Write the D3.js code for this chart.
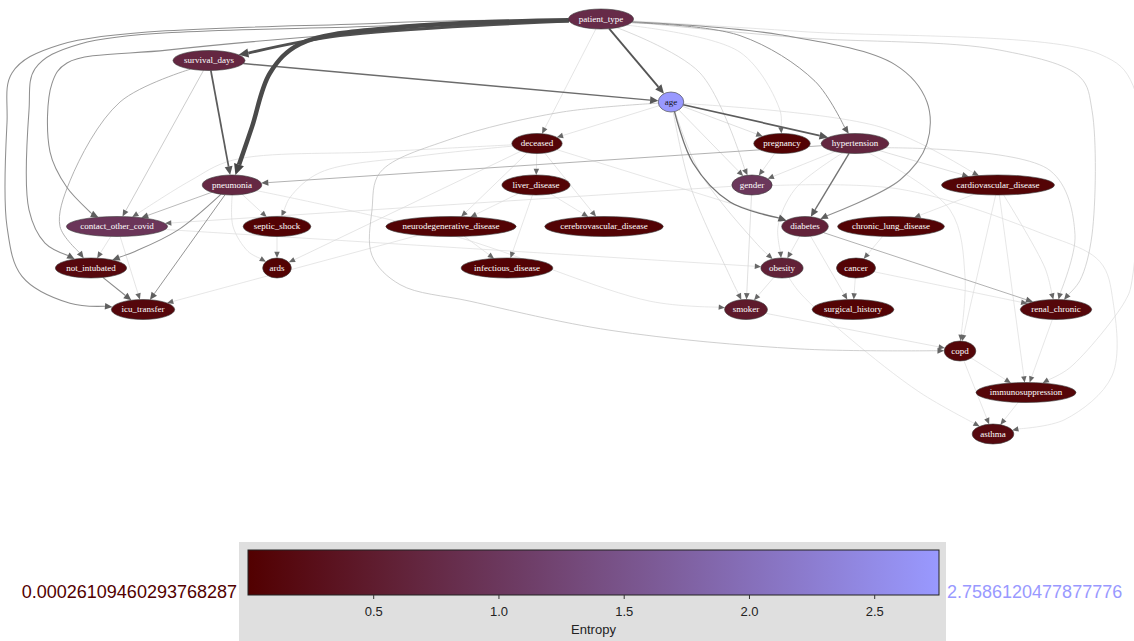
<!DOCTYPE html>
<html>
<head>
<meta charset="utf-8">
<script src="https://cdn.jsdelivr.net/npm/d3@7"></script>
<style>
  body { margin: 0; background: #fff; }
  svg { display: block; }
</style>
</head>
<body>
<svg id="chart" width="1134" height="641"></svg>
<script>
// nodes of the network and their entropy
const nodeNames = ['patient_type', 'survival_days', 'age', 'deceased', 'pregnancy', 'hypertension',
  'pneumonia', 'liver_disease', 'gender', 'cardiovascular_disease', 'contact_other_covid', 'septic_shock',
  'neurodegenerative_disease', 'cerebrovascular_disease', 'diabetes', 'chronic_lung_disease', 'not_intubated',
  'ards', 'infectious_disease', 'obesity', 'cancer', 'icu_transfer', 'smoker', 'surgical_history',
  'renal_chronic', 'copd', 'immunosuppression', 'asthma'];
const nodeEntropy = [0.78, 0.70, 2.7586120477877776, 0.09, 0.03, 0.68,
  0.72, 0.05, 0.99, 0.07, 0.96, 0.04,
  0.05, 0.05, 0.62, 0.05, 0.15,
  0.03, 0.04, 0.60, 0.06, 0.13, 0.47, 0.05,
  0.12, 0.10, 0.10, 0.16];

// dot layout: rank (row) and horizontal position of each node
const nodeRank = [0, 1, 2, 3, 3, 3, 4, 4, 4, 4, 5, 5, 5, 5, 5, 5, 6, 6, 6, 6, 6, 7, 7, 7, 7, 8, 9, 10];
const nodeX = [601, 209, 671, 537, 782, 855, 232, 536, 752, 998, 117, 277, 451, 604, 805, 891, 91, 277, 507,
  782, 856, 143, 746, 853, 1056, 960, 1026, 993];

// arcs: parent, child, strength
const arcs = [
  ['patient_type', 'pneumonia', 1.0],
  ['patient_type', 'survival_days', 0.75],
  ['patient_type', 'age', 0.55],
  ['survival_days', 'pneumonia', 0.52],
  ['survival_days', 'age', 0.45],
  ['age', 'hypertension', 0.52],
  ['age', 'diabetes', 0.42],
  ['hypertension', 'diabetes', 0.42],
  ['patient_type', 'diabetes', 0.3],
  ['patient_type', 'hypertension', 0.28],
  ['patient_type', 'icu_transfer', 0.3],
  ['patient_type', 'not_intubated', 0.3],
  ['patient_type', 'contact_other_covid', 0.3],
  ['pneumonia', 'not_intubated', 0.3],
  ['pneumonia', 'icu_transfer', 0.28],
  ['not_intubated', 'icu_transfer', 0.32],
  ['pneumonia', 'contact_other_covid', 0.2],
  ['survival_days', 'not_intubated', 0.22],
  ['survival_days', 'contact_other_covid', 0.15],
  ['hypertension', 'pneumonia', 0.22],
  ['diabetes', 'renal_chronic', 0.22],
  ['age', 'copd', 0.14],
  ['patient_type', 'renal_chronic', 0.12],
  ['patient_type', 'immunosuppression', 0.06],
  ['patient_type', 'deceased', 0.06],
  ['patient_type', 'gender', 0.1],
  ['patient_type', 'pregnancy', 0.06],
  ['age', 'deceased', 0.06],
  ['age', 'pregnancy', 0.08],
  ['age', 'gender', 0.08],
  ['age', 'obesity', 0.08],
  ['age', 'smoker', 0.08],
  ['age', 'cardiovascular_disease', 0.06],
  ['deceased', 'liver_disease', 0.06],
  ['deceased', 'neurodegenerative_disease', 0.06],
  ['deceased', 'cerebrovascular_disease', 0.06],
  ['deceased', 'septic_shock', 0.06],
  ['deceased', 'contact_other_covid', 0.06],
  ['deceased', 'ards', 0.06],
  ['deceased', 'diabetes', 0.05],
  ['pneumonia', 'septic_shock', 0.06],
  ['pneumonia', 'ards', 0.06],
  ['pneumonia', 'smoker', 0.05],
  ['liver_disease', 'neurodegenerative_disease', 0.05],
  ['liver_disease', 'infectious_disease', 0.05],
  ['liver_disease', 'cerebrovascular_disease', 0.05],
  ['neurodegenerative_disease', 'infectious_disease', 0.05],
  ['neurodegenerative_disease', 'icu_transfer', 0.05],
  ['septic_shock', 'ards', 0.06],
  ['contact_other_covid', 'not_intubated', 0.06],
  ['contact_other_covid', 'icu_transfer', 0.06],
  ['contact_other_covid', 'obesity', 0.05],
  ['gender', 'contact_other_covid', 0.06],
  ['gender', 'smoker', 0.08],
  ['gender', 'asthma', 0.05],
  ['pregnancy', 'gender', 0.06],
  ['hypertension', 'gender', 0.06],
  ['hypertension', 'obesity', 0.06],
  ['hypertension', 'cardiovascular_disease', 0.08],
  ['hypertension', 'renal_chronic', 0.1],
  ['hypertension', 'copd', 0.05],
  ['cardiovascular_disease', 'chronic_lung_disease', 0.05],
  ['cardiovascular_disease', 'copd', 0.05],
  ['cardiovascular_disease', 'immunosuppression', 0.05],
  ['cardiovascular_disease', 'renal_chronic', 0.06],
  ['chronic_lung_disease', 'cancer', 0.05],
  ['diabetes', 'obesity', 0.06],
  ['diabetes', 'surgical_history', 0.06],
  ['cancer', 'surgical_history', 0.05],
  ['cancer', 'renal_chronic', 0.05],
  ['obesity', 'smoker', 0.06],
  ['obesity', 'asthma', 0.05],
  ['smoker', 'copd', 0.06],
  ['copd', 'immunosuppression', 0.05],
  ['copd', 'asthma', 0.05],
  ['renal_chronic', 'immunosuppression', 0.05],
  ['immunosuppression', 'asthma', 0.05]
];

// spline routing of the long arcs: [x, rank] waypoints
const arcRoutes = {
  'patient_type>pneumonia': [[400, 0.2], [300, 0.6], [270, 1.3], [252, 2.6]],
  'patient_type>survival_days': [[340, 0.4]],
  'patient_type>icu_transfer': [[380, 0.1], [60, 0.62], [12, 1.3], [7, 2.5], [7, 5], [22, 6.2], [70, 6.85]],
  'patient_type>not_intubated': [[380, 0.17], [80, 0.6], [35, 1.2], [29, 2.2], [29, 4.6], [45, 5.4]],
  'patient_type>contact_other_covid': [[380, 0.3], [167, 0.75], [67, 1.06], [52, 1.55], [50, 3.2], [67, 4.06], [92, 4.7]],
  'survival_days>not_intubated': [[120, 2.0], [70, 3.9], [60, 5.0]],
  'pneumonia>not_intubated': [[177, 5.1], [135, 5.6]],
  'age>diabetes': [[693, 3.47], [730, 4.41]],
  'patient_type>diabetes': [[780, 0.38], [895, 1.1], [927, 2.0], [927, 3.0], [900, 3.88]],
  'patient_type>hypertension': [[740, 0.4], [815, 1.5]],
  'patient_type>renal_chronic': [[800, 0.45], [1000, 0.75], [1080, 1.4], [1092, 2.2], [1092, 5.2], [1080, 6.3]],
  'patient_type>immunosuppression': [[800, 0.3], [1100, 0.85], [1133, 1.6], [1132, 6.3], [1125, 6.8], [1070, 8.4]],
  'patient_type>gender': [[700, 1.3]],
  'patient_type>pregnancy': [[740, 0.8], [780, 2.2]],
  'age>copd': [[560, 2.25], [450, 2.9], [380, 3.7], [372, 4.6], [372, 5.7], [400, 6.4], [470, 6.8], [610, 7.5], [800, 7.95]],
  'age>obesity': [[700, 3.7], [760, 5.5]],
  'age>smoker': [[690, 4], [730, 6.2]],
  'age>cardiovascular_disease': [[880, 2.6]],
  'hypertension>obesity': [[795, 4.1], [778, 5.0]],
  'hypertension>renal_chronic': [[1050, 3.65], [1075, 5.2]],
  'hypertension>copd': [[950, 4.6], [965, 6.2]],
  'gender>asthma': [[900, 4.1], [1040, 5.15], [1100, 5.85], [1113, 6.8], [1112, 8.6], [1065, 9.65]],
  'obesity>asthma': [[800, 6.6], [850, 7.7], [920, 9.0]],
  'cardiovascular_disease>renal_chronic': [[1045, 6.0]],
  'deceased>septic_shock': [[420, 3.3], [320, 3.7], [290, 4.3]],
  'deceased>contact_other_covid': [[380, 3.2], [233, 3.4], [190, 3.9]],
  'pneumonia>ards': [[233, 5.0], [248, 5.6]],
  'pneumonia>smoker': [[450, 5.2], [650, 6.8]]
};

// colour bar
const entropyMin = 0.00026109460293768287;
const entropyMax = 2.7586120477877776;
const barTicks = [0.5, 1.0, 1.5, 2.0, 2.5];

const svg = d3.select('#chart');
const x = d3.scaleLinear().domain([0, 1134]).range([0, 1134]);
const y = d3.scaleLinear().domain([0, 10]).range([19, 434]);
const cmap = d3.interpolateRgb('#520000', '#9999ff');
const color = d3.scaleSequential(cmap).domain([entropyMin, entropyMax]);
const arcWidth = d3.scalePow().exponent(2).domain([0, 1]).range([0.7, 4.5]);
const arcColor = d3.scaleLinear().domain([0.05, 0.3, 0.55, 1]).range(['#dddddd', '#8f8f8f', '#555555', '#4a4a4a']).clamp(true);
const headColor = d3.scaleLinear().domain([0, 1]).range(['#6a6a6a', '#444444']);

const nodes = nodeNames.map((name, i) => ({
  name, entropy: nodeEntropy[i], cx: x(nodeX[i]), cy: y(nodeRank[i]), ry: 10
}));
const byName = new Map(nodes.map(n => [n.name, n]));

const gArcs = svg.append('g');
const gNodes = svg.append('g');

const node = gNodes.selectAll('g.node')
  .data(nodes)
  .enter().append('g')
  .attr('class', 'node')
  .attr('transform', d => `translate(${d.cx},${d.cy})`);
const ell = node.append('ellipse')
  .attr('ry', d => d.ry)
  .style('fill', d => color(d.entropy))
  .style('stroke', '#3a3a3a')
  .style('stroke-width', 0.6);
node.append('text')
  .attr('text-anchor', 'middle')
  .attr('dy', '0.33em')
  .style('font-family', '"Liberation Serif", "Times New Roman", serif')
  .style('font-size', '9px')
  .style('fill', d => d.entropy > 1.8 ? '#111' : '#fff')
  .text(d => d.name)
  .each(function (d) { d.rx = this.getComputedTextLength() * 0.62 + 5; });
ell.attr('rx', d => d.rx);

function boundary(n, px, py) {
  const dx = px - n.cx, dy = py - n.cy;
  const t = 1 / Math.sqrt((dx / n.rx) ** 2 + (dy / n.ry) ** 2);
  return [n.cx + dx * t, n.cy + dy * t];
}

const line = d3.line().curve(d3.curveCatmullRom.alpha(0.5));
const sorted = arcs.slice().sort((a, b) => a[2] - b[2]);
sorted.forEach(([src, dst, w]) => {
  const s = byName.get(src), t = byName.get(dst);
  const pts = (arcRoutes[src + '>' + dst] || []).map(([vx, vr]) => [x(vx), y(vr)]);
  const first = pts.length ? pts[0] : [t.cx, t.cy];
  const last = pts.length ? pts[pts.length - 1] : [s.cx, s.cy];
  const p0 = boundary(s, first[0], first[1]);
  const pe = boundary(t, last[0], last[1]);
  const prev = pts.length ? last : p0;
  let ux = pe[0] - prev[0], uy = pe[1] - prev[1];
  const len = Math.hypot(ux, uy);
  ux /= len; uy /= len;
  const L = 6 + 5 * w, hw = 2.6 + 2.6 * w;
  const base = [pe[0] - ux * L, pe[1] - uy * L];
  gArcs.append('path')
    .attr('d', line([p0, ...pts, base]))
    .style('fill', 'none')
    .style('stroke', arcColor(w))
    .style('stroke-width', arcWidth(w));
  gArcs.append('path')
    .attr('d', `M${pe[0]},${pe[1]}L${base[0] - uy * hw},${base[1] + ux * hw}L${base[0] + uy * hw},${base[1] - ux * hw}Z`)
    .style('fill', headColor(w))
    .style('stroke', 'none');
});

// colour bar legend
const bar = { left: 248, right: 939, top: 550, bottom: 595 };
svg.append('rect')
  .attr('x', 239).attr('y', 542).attr('width', 707).attr('height', 110)
  .style('fill', '#dfdfdf');
const grad = svg.append('defs').append('linearGradient').attr('id', 'entropyGrad');
d3.range(0, 1.0001, 0.1).forEach(t => {
  grad.append('stop').attr('offset', t).attr('stop-color', cmap(t));
});
svg.append('rect')
  .attr('x', bar.left).attr('y', bar.top)
  .attr('width', bar.right - bar.left).attr('height', bar.bottom - bar.top)
  .style('fill', 'url(#entropyGrad)')
  .style('stroke', '#222').style('stroke-width', 1);
const cbScale = d3.scaleLinear().domain([entropyMin, entropyMax]).range([bar.left, bar.right]);
const axis = svg.append('g')
  .attr('transform', `translate(0,${bar.bottom})`)
  .call(d3.axisBottom(cbScale).tickValues(barTicks).tickFormat(d3.format('.1f')).tickSize(4).tickPadding(8));
axis.select('.domain').remove();
axis.selectAll('line').style('stroke', '#333');
axis.selectAll('text')
  .style('font-family', '"Liberation Sans", Arial, sans-serif')
  .style('font-size', '13px')
  .style('fill', '#222');
svg.append('text')
  .attr('x', (bar.left + bar.right) / 2).attr('y', 634)
  .attr('text-anchor', 'middle')
  .style('font-family', '"Liberation Sans", Arial, sans-serif')
  .style('font-size', '13px')
  .style('fill', '#222')
  .text('Entropy');
svg.append('text')
  .attr('x', 237).attr('y', 598)
  .attr('text-anchor', 'end')
  .style('font-family', '"Liberation Sans", Arial, sans-serif')
  .style('font-size', '18px')
  .style('fill', color(entropyMin))
  .text(String(entropyMin));
svg.append('text')
  .attr('x', 947).attr('y', 598)
  .style('font-family', '"Liberation Sans", Arial, sans-serif')
  .style('font-size', '18px')
  .style('fill', color(entropyMax))
  .text(String(entropyMax));
</script>
</body>
</html>
